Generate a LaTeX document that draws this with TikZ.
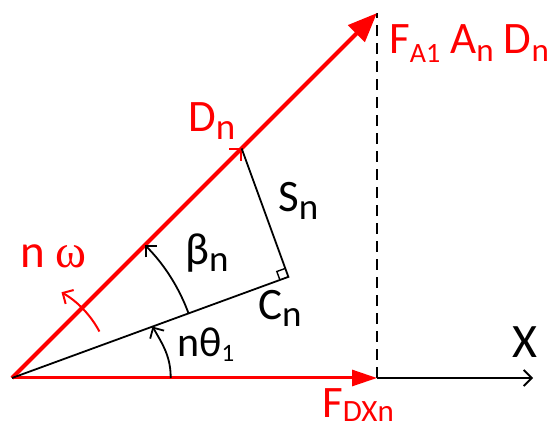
\documentclass[tikz,border=0pt]{standalone}
\usepackage{fontspec}
\setmainfont{Carlito}
\newfontfamily\grk{Liberation Serif}
\usetikzlibrary{arrows.meta,calc}
\newcommand\lowsub[3]{\raisebox{-#2pt}{\fontsize{#1}{#1}\selectfont #3}}
\begin{document}
\begin{tikzpicture}[x=1pt,y=1pt,
  lbl/.style={anchor=base west, inner sep=0pt, font=\fontsize{45}{45}\selectfont},
  redlbl/.style={lbl, text=red},
  barb/.style={-{Straight Barb[length=8pt,width=16pt]}},
  blk/.style={black, line width=1.8pt},
  dashln/.style={black, line width=2pt, dash pattern=on 11pt off 7pt}]
\useasboundingbox (0,0) rectangle (551,428);
\coordinate (O) at (12,50);
\coordinate (C) at ($(O)+(20.1:294.3)$);
\coordinate (D) at ($(O)+(45:324.7)$);
\coordinate (T) at ($(O)+(45:516)$);
\coordinate (F) at (377,50);
\coordinate (X) at (533,50);
\coordinate (Top) at (377,415);

\draw[dashln] (F) -- (Top);
\draw[blk, barb] (F) -- (X);
\draw[red, line width=3pt, -{Triangle[length=25pt,width=16pt]}] (O) -- (F);
\draw[red, line width=2pt, barb] (O) -- (D);
\draw[red, line width=4pt, -{Triangle[length=29pt,width=23pt]}] (O) -- (T);
\draw[blk] (O) -- (C) -- (D);
\draw[black, line width=1.4pt] ($(C)!9pt!(O)$) -- ++(110.1:9) -- ($(C)!9pt!(D)$);

\draw[blk, barb] ($(O)+(20.1:188)$) arc[start angle=20.1, end angle=45, radius=188];
\draw[blk, barb] ($(O)+(158.7,0)$) to[out=90,in=-60] ($(O)+(20.1:149.6)$);
\draw[red, line width=2pt, barb] ($(O)+(28:99)$) arc[start angle=28, end angle=60, radius=99];

\node[redlbl, font=\fontsize{47}{47}\selectfont] (nw) at (20,160) {n {\grk ω}};
\node[redlbl] (dn) at (188,296.3) {D\lowsub{37}{8}{n}};
\node[lbl] (sn) at (278,216.3) {S\lowsub{37}{8}{n}};
\node[lbl] (bn) at (185,163) {β\lowsub{37}{7}{n}};
\node[lbl] (cn) at (258,108) {C\lowsub{37}{7}{n}};
\node[lbl, font=\fontsize{42}{42}\selectfont] (nt) at (177,71.3) {nθ\lowsub{25}{5}{1}};
\node[redlbl] (fa) at (389,374.7) {F\lowsub{28}{9}{A1} A\lowsub{33}{8}{n} D\lowsub{33}{8}{n}};
\node[redlbl] (fd) at (322,11) {F\lowsub{31}{5}{DXn}};
\node[lbl, font=\fontsize{48}{48}\selectfont] (xl) at (512,70) {X};
\end{tikzpicture}
\end{document}
